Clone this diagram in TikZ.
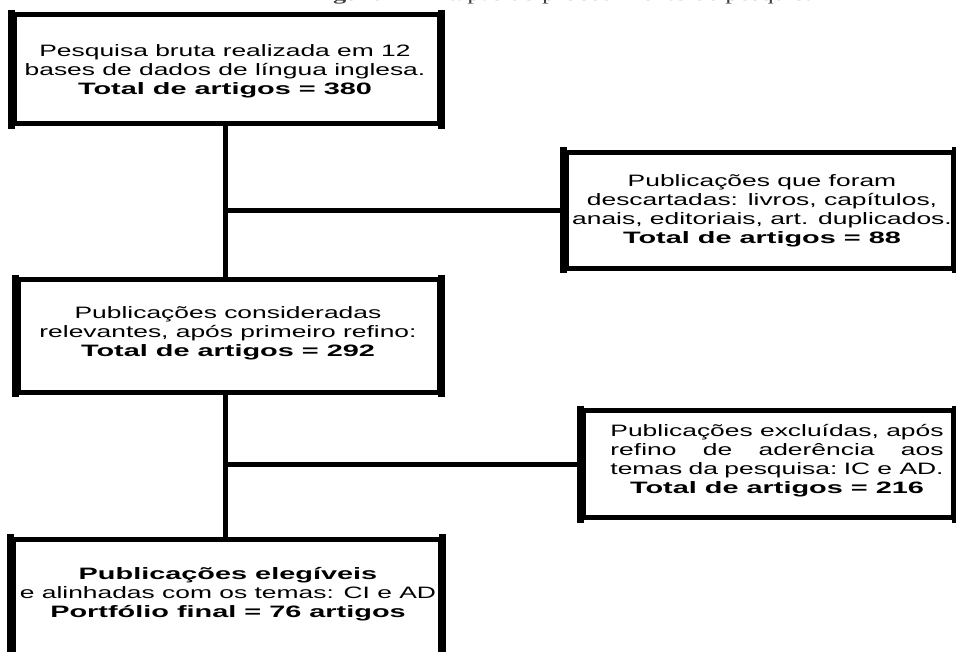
\documentclass[tikz,border=0pt]{standalone}
\usepackage{fontspec}
\setmainfont{Liberation Serif}
\setsansfont{Liberation Sans}
\usetikzlibrary{calc}
\newcommand{\rl}[1]{\scalebox{1.6}[1]{#1}}
\newcommand{\bl}[1]{\scalebox{1.75}[1]{\bfseries #1}}
\newcommand{\jline}[1]{\hbox to 208.2pt{#1}}
\begin{document}
\begin{tikzpicture}[x=1pt,y=-1pt,
  box/.style={draw=black, line width=5pt, fill=white, inner sep=0pt},
  side/.style={draw=black, line width=6.5pt},
  txt/.style={font=\sffamily\fontsize{16.5}{19}\selectfont, align=center, inner sep=0pt, text=black},
  conn/.style={line width=5pt, draw=black}]
\useasboundingbox (0,0) rectangle (956,652);
\clip (0,0) rectangle (956,652);
\fill[white] (0,0) rectangle (956,652);

% caption (mostly cut off at the top)
\node[font=\rmfamily\fontsize{16.5}{19}\selectfont, anchor=base west, inner sep=0pt, text=black!75] (cap) at (309.5,1)
  {\scalebox{1.6}[1]{\textbf{Figura 1} – Etapas do procedimento de pesquisa}};

% boxes
\node[box, minimum width=425pt, minimum height=109pt] (b1) at (226.5,69.5) {};
\node[box, minimum width=387pt, minimum height=116pt] (b2) at (759.5,210.5) {};
\node[box, minimum width=421pt, minimum height=112pt] (b3) at (228.5,336) {};
\node[box, minimum width=370pt, minimum height=107pt] (b4) at (768,464) {};
\node[box, minimum width=427pt, minimum height=161pt] (b5) at (226.5,619.5) {};
\foreach \b in {b1,b2,b3,b4,b5} {
  \draw[side] ($(\b.north west)+(0,-2.5)$) -- ($(\b.south west)+(0,2.5)$);
  \draw[side] ($(\b.north east)+(0,-2.5)$) -- ($(\b.south east)+(0,2.5)$);
}

% connectors
\coordinate (spine) at (225,0);
\draw[conn] (spine |- b1.south) -- (spine |- b3.north);
\draw[conn] (spine |- b3.south) -- (spine |- b5.north);
\draw[conn] (spine |- b2.west) -- (b2.west);
\draw[conn] (spine |- b4.west) -- (b4.west);

% texts
\node[txt] (t1) at (225,71) {\rl{Pesquisa bruta realizada em 12}\\ \rl{bases de dados de língua inglesa.}\\ \bl{Total de artigos = 380}};
\node[txt] (t2) at (762,211) {\rl{Publicações que foram}\\ \rl{descartadas: livros, capítulos,}\\ \rl{anais, editoriais, art. duplicados.}\\ \bl{Total de artigos = 88}};
\node[txt] (t3) at (228,333) {\rl{Publicações consideradas}\\ \rl{relevantes, após primeiro refino:}\\ \bl{Total de artigos = 292}};
\node[txt] (t4) at (777,461) {\rl{\jline{Publicações excluídas, após}}\\ \rl{\jline{refino\hfill de\hfill aderência\hfill aos}}\\ \rl{\jline{temas\hfill da\hfill pesquisa:\hfill IC e AD.}}\\ \bl{Total de artigos = 216}};
\node[txt] (t5) at (228,594) {\bl{Publicações elegíveis}\\ \rl{e alinhadas com os temas: CI e AD}\\ \bl{Portfólio final = 76 artigos}};
\end{tikzpicture}
\end{document}
